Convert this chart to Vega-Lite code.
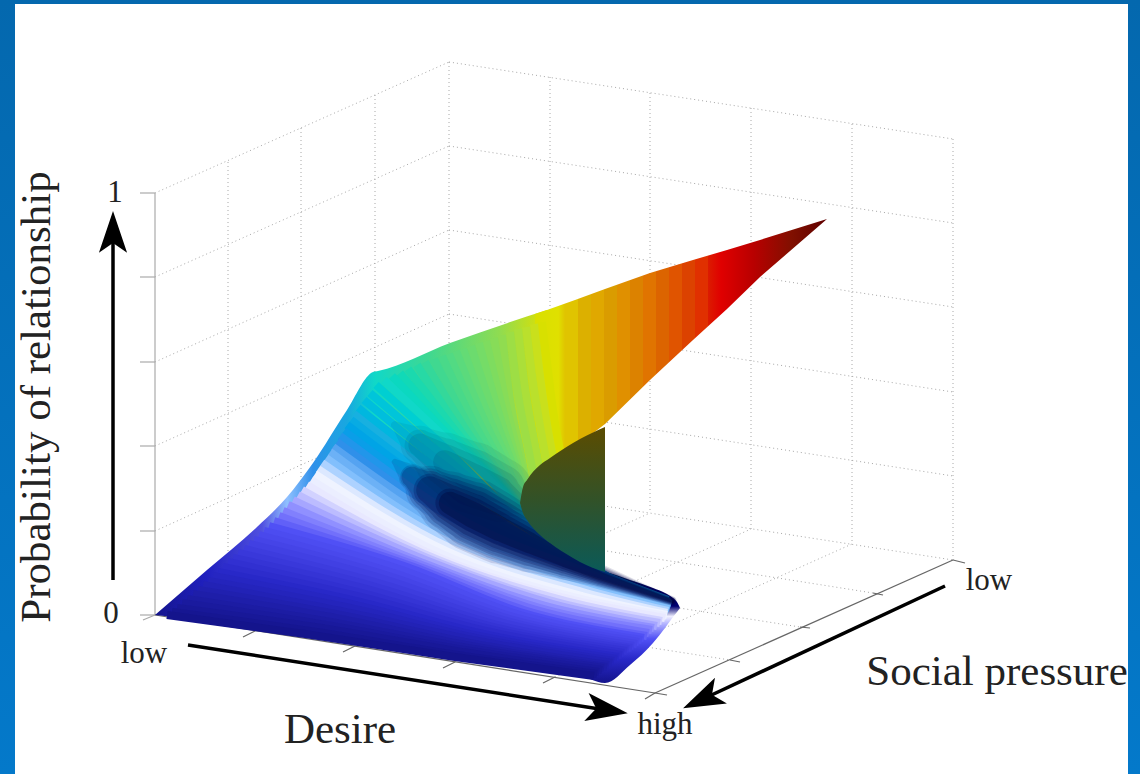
{"$schema":"https://vega.github.io/schema/vega-lite/v6.json","width":1140,"height":774,"padding":0,"autosize":{"type":"none"},"background":"#0570b8","config":{"view":{"stroke":null}},
"datasets":{
"panel":[{"x":15,"y":4,"x2":1128,"y2":774}],
"bg":[{"x":0,"y":0,"x2":1140,"y2":774}],
"grid":[{"x":228,"y":162,"x2":228,"y2":582},{"x":301,"y":128,"x2":301,"y2":549},{"x":375,"y":95,"x2":375,"y2":515},{"x":449,"y":62,"x2":449,"y2":482},{"x":155,"y":615,"x2":449,"y2":482},{"x":155,"y":531,"x2":449,"y2":398},{"x":155,"y":446,"x2":449,"y2":314},{"x":155,"y":362,"x2":449,"y2":230},{"x":155,"y":277,"x2":449,"y2":146},{"x":155,"y":193,"x2":449,"y2":62},{"x":550,"y":77,"x2":550,"y2":498},{"x":650,"y":93,"x2":650,"y2":513},{"x":751,"y":108,"x2":751,"y2":529},{"x":852,"y":124,"x2":852,"y2":544},{"x":953,"y":139,"x2":953,"y2":560},{"x":449,"y":482,"x2":953,"y2":560},{"x":449,"y":398,"x2":953,"y2":476},{"x":449,"y":314,"x2":953,"y2":392},{"x":449,"y":230,"x2":953,"y2":307},{"x":449,"y":146,"x2":953,"y2":223},{"x":449,"y":62,"x2":953,"y2":139},{"x":229,"y":582,"x2":730,"y2":660},{"x":304,"y":549,"x2":800,"y2":627},{"x":378,"y":515,"x2":873,"y2":593},{"x":255,"y":631,"x2":550,"y2":498},{"x":355,"y":646,"x2":650,"y2":513},{"x":455,"y":662,"x2":751,"y2":529},{"x":555,"y":677,"x2":852,"y2":544}],
"edgeV":[{"x":155,"y":193,"x2":155,"y2":615},{"x":140,"y":193,"x2":155,"y2":193},{"x":140,"y":277,"x2":155,"y2":277},{"x":140,"y":362,"x2":155,"y2":362},{"x":140,"y":446,"x2":155,"y2":446},{"x":140,"y":531,"x2":155,"y2":531},{"x":140,"y":615,"x2":155,"y2":615},{"x":143,"y":620,"x2":155,"y2":615}],
"edgeF":[{"x":155,"y":615,"x2":655,"y2":693},{"x":655,"y":693,"x2":953,"y2":560},{"x":243,"y":637,"x2":255,"y2":631},{"x":343,"y":652,"x2":355,"y2":646},{"x":443,"y":668,"x2":455,"y2":662},{"x":543,"y":683,"x2":555,"y2":677},{"x":645,"y":699,"x2":655,"y2":693},{"x":730,"y":660,"x2":740,"y2":662},{"x":800,"y":627,"x2":810,"y2":628},{"x":873,"y":593,"x2":883,"y2":595},{"x":953,"y":560,"x2":965,"y2":563},{"x":655,"y":693,"x2":667,"y2":695}],
"shaft":[{"x":113,"y":580,"x2":113,"y2":233},{"x":188,"y":645,"x2":606,"y2":710},{"x":945,"y":586,"x2":703,"y2":699}],
"heads":[{"x":113,"y":233,"a":0},{"x":606,"y":710,"a":98.8},{"x":703,"y":699,"a":245}],
"under":[{"x":155,"y":615,"y2":615},{"x":207,"y":570,"y2":621},{"x":257,"y":527,"y2":629},{"x":287,"y":497,"y2":633},{"x":313,"y":463,"y2":637},{"x":347,"y":410,"y2":642},{"x":373,"y":372,"y2":646},{"x":378,"y":371,"y2":647},{"x":450,"y":343,"y2":658},{"x":547,"y":310,"y2":672}],
"endcap":[{"x":590,"y":570,"y2":679},{"x":605,"y":572,"y2":683},{"x":630,"y":580,"y2":665},{"x":653,"y":588,"y2":643},{"x":665,"y":593,"y2":628},{"x":673,"y":598,"y2":617},{"x":677,"y":602,"y2":612},{"x":680,"y":608,"y2":608}],
"rim":[{"x":535,"y":314,"y2":470},{"x":547,"y":310,"y2":462},{"x":575,"y":300,"y2":447},{"x":605,"y":289,"y2":424},{"x":650,"y":273,"y2":380},{"x":693,"y":260,"y2":340},{"x":727,"y":250,"y2":309},{"x":760,"y":240,"y2":277},{"x":827,"y":219,"y2":219}],
"fold":[{"x":520,"y":503,"y2":503},{"x":523,"y":487,"y2":513},{"x":527,"y":480,"y2":520},{"x":540,"y":465,"y2":535},{"x":550,"y":458,"y2":543},{"x":573,"y":443,"y2":558},{"x":580,"y":439,"y2":562},{"x":605,"y":427,"y2":572}],
"shade":[{"x":395,"y":462,"s":6},{"x":412,"y":477,"s":25},{"x":430,"y":490,"s":46},{"x":450,"y":503,"s":60},{"x":473,"y":515,"s":70},{"x":500,"y":529,"s":66},{"x":530,"y":543,"s":56},{"x":565,"y":560,"s":38},{"x":600,"y":576,"s":22},{"x":640,"y":590,"s":14},{"x":672,"y":601,"s":9}],
"shadeHigh":[{"x":395,"y":425,"s":6},{"x":420,"y":445,"s":30},{"x":445,"y":462,"s":46},{"x":473,"y":478,"s":56},{"x":500,"y":490,"s":50},{"x":530,"y":510,"s":20}],
"big":[{"t":"Desire","x":340,"y":730},{"t":"Social pressure","x":997,"y":672}],
"side":[{"t":"Probability of relationship","x":37,"y":397}],
"small":[{"t":"low","x":144,"y":654},{"t":"low","x":989,"y":581},{"t":"high","x":665,"y":725},{"t":"1","x":115,"y":193},{"t":"0","x":111,"y":614}],
"bands":[
{"c":0.8,"x":542,"y":322},{"c":0.8,"x":548,"y":370},{"c":0.8,"x":553,"y":410},{"c":0.8,"x":560,"y":450},
{"c":0.788,"x":534,"y":324},{"c":0.788,"x":540,"y":376},{"c":0.788,"x":546,"y":418},{"c":0.788,"x":553,"y":457},
{"c":0.776,"x":526,"y":327},{"c":0.776,"x":533,"y":382},{"c":0.776,"x":540,"y":426},{"c":0.776,"x":547,"y":464},
{"c":0.764,"x":518,"y":329},{"c":0.764,"x":525,"y":388},{"c":0.764,"x":533,"y":434},{"c":0.764,"x":540,"y":471},
{"c":0.752,"x":510,"y":332},{"c":0.752,"x":518,"y":394},{"c":0.752,"x":527,"y":442},{"c":0.752,"x":534,"y":478},
{"c":0.74,"x":502,"y":335},{"c":0.74,"x":510,"y":400},{"c":0.74,"x":520,"y":450},{"c":0.74,"x":527,"y":485},
{"c":0.731,"x":494,"y":338},{"c":0.731,"x":506,"y":404},{"c":0.731,"x":518,"y":453},{"c":0.731,"x":527,"y":488},
{"c":0.722,"x":486,"y":341},{"c":0.722,"x":502,"y":407},{"c":0.722,"x":515,"y":456},{"c":0.722,"x":526,"y":491},
{"c":0.713,"x":479,"y":343},{"c":0.713,"x":498,"y":411},{"c":0.713,"x":513,"y":458},{"c":0.713,"x":526,"y":493},
{"c":0.704,"x":471,"y":346},{"c":0.704,"x":494,"y":415},{"c":0.704,"x":511,"y":461},{"c":0.704,"x":525,"y":496},
{"c":0.696,"x":463,"y":349},{"c":0.696,"x":489,"y":418},{"c":0.696,"x":509,"y":464},{"c":0.696,"x":525,"y":499},
{"c":0.687,"x":456,"y":351},{"c":0.687,"x":485,"y":422},{"c":0.687,"x":507,"y":467},{"c":0.687,"x":524,"y":502},
{"c":0.678,"x":449,"y":354},{"c":0.678,"x":481,"y":426},{"c":0.678,"x":504,"y":469},{"c":0.678,"x":524,"y":504},
{"c":0.669,"x":442,"y":356},{"c":0.669,"x":477,"y":429},{"c":0.669,"x":502,"y":472},{"c":0.669,"x":523,"y":507},
{"c":0.66,"x":434,"y":359},{"c":0.66,"x":473,"y":433},{"c":0.66,"x":500,"y":475},{"c":0.66,"x":523,"y":510},
{"c":0.647,"x":425,"y":362},{"c":0.647,"x":468,"y":433},{"c":0.647,"x":498,"y":476},{"c":0.647,"x":524,"y":512},
{"c":0.633,"x":417,"y":365},{"c":0.633,"x":462,"y":433},{"c":0.633,"x":497,"y":477},{"c":0.633,"x":525,"y":515},
{"c":0.62,"x":408,"y":369},{"c":0.62,"x":457,"y":433},{"c":0.62,"x":495,"y":478},{"c":0.62,"x":526,"y":517},
{"c":0.607,"x":400,"y":373},{"c":0.607,"x":451,"y":433},{"c":0.607,"x":493,"y":478},{"c":0.607,"x":528,"y":520},
{"c":0.593,"x":392,"y":376},{"c":0.593,"x":446,"y":433},{"c":0.593,"x":492,"y":479},{"c":0.593,"x":529,"y":522},
{"c":0.58,"x":384,"y":380},{"c":0.58,"x":440,"y":433},{"c":0.58,"x":490,"y":480},{"c":0.58,"x":530,"y":525},
{"c":0.565,"x":376,"y":385},{"c":0.565,"x":440,"y":443},{"c":0.565,"x":510,"y":510},{"c":0.565,"x":550,"y":535},
{"c":0.55,"x":370,"y":393},{"c":0.55,"x":440,"y":453},{"c":0.55,"x":520,"y":520},{"c":0.55,"x":570,"y":555},
{"c":0.54,"x":364,"y":400},{"c":0.54,"x":440,"y":462},{"c":0.54,"x":525,"y":525},{"c":0.54,"x":590,"y":570},
{"c":0.53,"x":358,"y":408},{"c":0.53,"x":440,"y":471},{"c":0.53,"x":530,"y":530},{"c":0.53,"x":610,"y":578},
{"c":0.52,"x":354,"y":414},{"c":0.52,"x":440,"y":480},{"c":0.52,"x":540,"y":545},{"c":0.52,"x":668,"y":600},
{"c":0.51,"x":351,"y":420},{"c":0.51,"x":447,"y":491},{"c":0.51,"x":553,"y":552},{"c":0.51,"x":668,"y":601},
{"c":0.495,"x":347,"y":425},{"c":0.495,"x":453,"y":501},{"c":0.495,"x":567,"y":560},{"c":0.495,"x":669,"y":602},
{"c":0.485,"x":344,"y":431},{"c":0.485,"x":460,"y":512},{"c":0.485,"x":580,"y":567},{"c":0.485,"x":670,"y":603},
{"c":0.47,"x":340,"y":436},{"c":0.47,"x":466,"y":522},{"c":0.47,"x":594,"y":575},{"c":0.47,"x":671,"y":604},
{"c":0.46,"x":337,"y":442},{"c":0.46,"x":473,"y":533},{"c":0.46,"x":607,"y":582},{"c":0.46,"x":671,"y":605},
{"c":0.44,"x":333,"y":447},{"c":0.44,"x":469,"y":536},{"c":0.44,"x":603,"y":584},{"c":0.44,"x":670,"y":606},
{"c":0.425,"x":330,"y":452},{"c":0.425,"x":465,"y":541},{"c":0.425,"x":598,"y":586},{"c":0.425,"x":670,"y":608},
{"c":0.41,"x":326,"y":458},{"c":0.41,"x":461,"y":544},{"c":0.41,"x":594,"y":589},{"c":0.41,"x":669,"y":609},
{"c":0.39,"x":322,"y":463},{"c":0.39,"x":456,"y":546},{"c":0.39,"x":590,"y":591},{"c":0.39,"x":668,"y":611},
{"c":0.37,"x":318,"y":469},{"c":0.37,"x":452,"y":549},{"c":0.37,"x":586,"y":593},{"c":0.37,"x":667,"y":613},
{"c":0.355,"x":315,"y":474},{"c":0.355,"x":448,"y":552},{"c":0.355,"x":582,"y":596},{"c":0.355,"x":667,"y":615},
{"c":0.34,"x":311,"y":480},{"c":0.34,"x":444,"y":555},{"c":0.34,"x":577,"y":598},{"c":0.34,"x":666,"y":616},
{"c":0.32,"x":307,"y":485},{"c":0.32,"x":440,"y":558},{"c":0.32,"x":573,"y":600},{"c":0.32,"x":665,"y":618},
{"c":0.305,"x":302,"y":490},{"c":0.305,"x":436,"y":559},{"c":0.305,"x":566,"y":601},{"c":0.305,"x":662,"y":621},
{"c":0.29,"x":298,"y":495},{"c":0.29,"x":432,"y":560},{"c":0.29,"x":560,"y":603},{"c":0.29,"x":660,"y":623},
{"c":0.275,"x":293,"y":500},{"c":0.275,"x":428,"y":561},{"c":0.275,"x":553,"y":604},{"c":0.275,"x":657,"y":626},
{"c":0.26,"x":288,"y":505},{"c":0.26,"x":423,"y":563},{"c":0.26,"x":546,"y":606},{"c":0.26,"x":654,"y":628},
{"c":0.245,"x":283,"y":511},{"c":0.245,"x":419,"y":564},{"c":0.245,"x":540,"y":608},{"c":0.245,"x":652,"y":630},
{"c":0.23,"x":279,"y":516},{"c":0.23,"x":415,"y":565},{"c":0.23,"x":533,"y":609},{"c":0.23,"x":649,"y":633},
{"c":0.215,"x":274,"y":521},{"c":0.215,"x":411,"y":566},{"c":0.215,"x":527,"y":611},{"c":0.215,"x":647,"y":636},
{"c":0.2,"x":269,"y":526},{"c":0.2,"x":407,"y":567},{"c":0.2,"x":520,"y":612},{"c":0.2,"x":644,"y":638},
{"c":0.19,"x":264,"y":531},{"c":0.19,"x":402,"y":570},{"c":0.19,"x":517,"y":614},{"c":0.19,"x":642,"y":640},
{"c":0.18,"x":259,"y":535},{"c":0.18,"x":397,"y":574},{"c":0.18,"x":514,"y":617},{"c":0.18,"x":639,"y":642},
{"c":0.17,"x":254,"y":540},{"c":0.17,"x":392,"y":577},{"c":0.17,"x":510,"y":619},{"c":0.17,"x":637,"y":644},
{"c":0.16,"x":249,"y":544},{"c":0.16,"x":387,"y":580},{"c":0.16,"x":507,"y":621},{"c":0.16,"x":634,"y":646},
{"c":0.15,"x":244,"y":549},{"c":0.15,"x":382,"y":584},{"c":0.15,"x":504,"y":623},{"c":0.15,"x":632,"y":648},
{"c":0.14,"x":238,"y":553},{"c":0.14,"x":376,"y":587},{"c":0.14,"x":501,"y":626},{"c":0.14,"x":629,"y":649},
{"c":0.13,"x":233,"y":558},{"c":0.13,"x":371,"y":590},{"c":0.13,"x":497,"y":628},{"c":0.13,"x":627,"y":651},
{"c":0.12,"x":228,"y":562},{"c":0.12,"x":366,"y":594},{"c":0.12,"x":494,"y":630},{"c":0.12,"x":624,"y":653},
{"c":0.11,"x":223,"y":567},{"c":0.11,"x":361,"y":597},{"c":0.11,"x":491,"y":632},{"c":0.11,"x":622,"y":655},
{"c":0.1,"x":218,"y":572},{"c":0.1,"x":356,"y":601},{"c":0.1,"x":488,"y":635},{"c":0.1,"x":619,"y":657},
{"c":0.09,"x":213,"y":576},{"c":0.09,"x":351,"y":604},{"c":0.09,"x":484,"y":637},{"c":0.09,"x":617,"y":659},
{"c":0.08,"x":208,"y":581},{"c":0.08,"x":346,"y":607},{"c":0.08,"x":481,"y":639},{"c":0.08,"x":614,"y":661},
{"c":0.07,"x":203,"y":585},{"c":0.07,"x":341,"y":611},{"c":0.07,"x":478,"y":641},{"c":0.07,"x":612,"y":663},
{"c":0.06,"x":198,"y":590},{"c":0.06,"x":336,"y":614},{"c":0.06,"x":475,"y":644},{"c":0.06,"x":609,"y":665},
{"c":0.05,"x":193,"y":594},{"c":0.05,"x":331,"y":617},{"c":0.05,"x":471,"y":646},{"c":0.05,"x":607,"y":667},
{"c":0.04,"x":187,"y":599},{"c":0.04,"x":325,"y":621},{"c":0.04,"x":468,"y":648},{"c":0.04,"x":604,"y":668},
{"c":0.03,"x":182,"y":603},{"c":0.03,"x":320,"y":624},{"c":0.03,"x":465,"y":650},{"c":0.03,"x":602,"y":670},
{"c":0.02,"x":177,"y":608},{"c":0.02,"x":315,"y":627},{"c":0.02,"x":462,"y":652},{"c":0.02,"x":599,"y":672},
{"c":0.01,"x":172,"y":612},{"c":0.01,"x":310,"y":631},{"c":0.01,"x":458,"y":655},{"c":0.01,"x":597,"y":674},
{"c":0,"x":167,"y":615},{"c":0,"x":305,"y":634},{"c":0,"x":455,"y":657},{"c":0,"x":594,"y":676}
]},
"encoding":{"x":{"field":"x","type":"quantitative","axis":null,"scale":{"domain":[0,1140],"nice":false,"zero":false}},"y":{"field":"y","type":"quantitative","axis":null,"scale":{"domain":[774,0],"nice":false,"zero":false}}},
"resolve":{"scale":{"size":"independent","color":"independent"}},
"layer":[
{"data":{"name":"bg"},"mark":{"type":"rect","color":{"gradient":"linear","x1":0,"y1":0,"x2":0,"y2":1,"stops":[{"offset":0,"color":"#0468ae"},{"offset":1,"color":"#0479ca"}]}},"encoding":{"x2":{"field":"x2"},"y2":{"field":"y2"}}},
{"data":{"name":"panel"},"mark":{"type":"rect","color":"#ffffff"},"encoding":{"x2":{"field":"x2"},"y2":{"field":"y2"}}},
{"data":{"name":"grid"},"mark":{"type":"rule","color":"#a8a8a8","strokeWidth":1,"strokeDash":[1,3]},"encoding":{"x2":{"field":"x2"},"y2":{"field":"y2"}}},
{"data":{"name":"edgeV"},"mark":{"type":"rule","color":"#aaaaaa","strokeWidth":1.2},"encoding":{"x2":{"field":"x2"},"y2":{"field":"y2"}}},
{"data":{"name":"edgeF"},"mark":{"type":"rule","color":"#666666","strokeWidth":1.2},"encoding":{"x2":{"field":"x2"},"y2":{"field":"y2"}}},
{"data":{"name":"under"},"mark":{"type":"area","interpolate":"monotone","color":{"gradient":"linear","x1":0,"y1":0,"x2":1,"y2":0,"stops":[{"offset":0,"color":"#14148c"},{"offset":0.133,"color":"#2020c0"},{"offset":0.273,"color":"#5050e0"},{"offset":0.337,"color":"#90c0ff"},{"offset":0.403,"color":"#2f90ea"},{"offset":0.49,"color":"#18a8e0"},{"offset":0.561,"color":"#10d8c8"},{"offset":0.7,"color":"#40d890"},{"offset":0.88,"color":"#90dc50"},{"offset":1,"color":"#e0e000"}]}},"encoding":{"y2":{"field":"y2"}}},
{"data":{"name":"endcap"},"mark":{"type":"area","interpolate":"monotone","color":{"gradient":"linear","x1":0,"y1":0,"x2":0,"y2":1,"stops":[{"offset":0,"color":"#005060"},{"offset":0.16,"color":"#000060"},{"offset":0.32,"color":"#000070"},{"offset":0.41,"color":"#f0f0ff"},{"offset":0.48,"color":"#b0b0ff"},{"offset":0.61,"color":"#5050f5"},{"offset":0.79,"color":"#2828c8"},{"offset":1,"color":"#14148c"}]}},"encoding":{"y2":{"field":"y2"}}},
{"data":{"name":"rim"},"mark":{"type":"area","color":{"gradient":"linear","x1":0,"y1":0,"x2":1,"y2":0,"stops":[{"offset":0,"color":"#d8e000"},{"offset":0.08,"color":"#e0e000"},{"offset":0.103,"color":"#e0c400"},{"offset":0.147,"color":"#e0c400"},{"offset":0.147,"color":"#dcb000"},{"offset":0.192,"color":"#dcb000"},{"offset":0.192,"color":"#e0a800"},{"offset":0.236,"color":"#e0a800"},{"offset":0.236,"color":"#da9c00"},{"offset":0.281,"color":"#da9c00"},{"offset":0.281,"color":"#e09000"},{"offset":0.325,"color":"#e09000"},{"offset":0.325,"color":"#dc8200"},{"offset":0.37,"color":"#dc8200"},{"offset":0.37,"color":"#e07400"},{"offset":0.414,"color":"#e07400"},{"offset":0.414,"color":"#dc6400"},{"offset":0.459,"color":"#dc6400"},{"offset":0.459,"color":"#e05400"},{"offset":0.503,"color":"#e05400"},{"offset":0.503,"color":"#dc4200"},{"offset":0.548,"color":"#dc4200"},{"offset":0.548,"color":"#e03000"},{"offset":0.592,"color":"#e03000"},{"offset":0.592,"color":"#dc1c00"},{"offset":0.637,"color":"#e00000"},{"offset":0.75,"color":"#b80000"},{"offset":0.88,"color":"#801000"},{"offset":1,"color":"#600000"}]}},"encoding":{"y2":{"field":"y2"}}},
{"data":{"name":"bands"},"mark":{"type":"line","strokeWidth":8,"interpolate":"monotone","strokeCap":"butt"},"encoding":{"color":{"field":"c","type":"quantitative","legend":null,"scale":{"domain":[0,0.1,0.2,0.26,0.32,0.36,0.4,0.46,0.52,0.58,0.66,0.74,0.8],"range":["#14148c","#2828c8","#5050f5","#9090ff","#e8e8ff","#f0f4ff","#90c8ff","#2f90ea","#18b0e0","#10d8c8","#40d890","#90dc50","#d8e000"]}},"detail":{"field":"c"}}},
{"data":{"name":"shadeHigh"},"mark":{"type":"trail","color":"#003050","opacity":0.08},"encoding":{"size":{"field":"s","type":"quantitative","legend":null,"scale":{"domain":[0,70],"range":[0,90]}}}},
{"data":{"name":"shadeHigh"},"transform":[{"filter":"datum.x>=420"}],"mark":{"type":"trail","color":"#003050","opacity":0.1},"encoding":{"size":{"field":"s","type":"quantitative","legend":null,"scale":{"domain":[0,70],"range":[0,72]}}}},
{"data":{"name":"shadeHigh"},"transform":[{"filter":"datum.x>=420"}],"mark":{"type":"trail","color":"#003050","opacity":0.12},"encoding":{"size":{"field":"s","type":"quantitative","legend":null,"scale":{"domain":[0,70],"range":[0,54]}}}},
{"data":{"name":"shadeHigh"},"transform":[{"filter":"datum.x>=445"}],"mark":{"type":"trail","color":"#003050","opacity":0.14},"encoding":{"size":{"field":"s","type":"quantitative","legend":null,"scale":{"domain":[0,70],"range":[0,36]}}}},
{"data":{"name":"shade"},"mark":{"type":"trail","color":"#000048","opacity":0.12},"encoding":{"size":{"field":"s","type":"quantitative","legend":null,"scale":{"domain":[0,70],"range":[0,74]}}}},
{"data":{"name":"shade"},"transform":[{"filter":"datum.x>=412"}],"mark":{"type":"trail","color":"#000048","opacity":0.16},"encoding":{"size":{"field":"s","type":"quantitative","legend":null,"scale":{"domain":[0,70],"range":[0,66]}}}},
{"data":{"name":"shade"},"transform":[{"filter":"datum.x>=412"}],"mark":{"type":"trail","color":"#000048","opacity":0.2},"encoding":{"size":{"field":"s","type":"quantitative","legend":null,"scale":{"domain":[0,70],"range":[0,58]}}}},
{"data":{"name":"shade"},"transform":[{"filter":"datum.x>=430"}],"mark":{"type":"trail","color":"#000048","opacity":0.22},"encoding":{"size":{"field":"s","type":"quantitative","legend":null,"scale":{"domain":[0,70],"range":[0,50]}}}},
{"data":{"name":"shade"},"transform":[{"filter":"datum.x>=430"}],"mark":{"type":"trail","color":"#000040","opacity":0.25},"encoding":{"size":{"field":"s","type":"quantitative","legend":null,"scale":{"domain":[0,70],"range":[0,42]}}}},
{"data":{"name":"shade"},"transform":[{"filter":"datum.x>=450"}],"mark":{"type":"trail","color":"#000040","opacity":0.28},"encoding":{"size":{"field":"s","type":"quantitative","legend":null,"scale":{"domain":[0,70],"range":[0,34]}}}},
{"data":{"name":"shade"},"transform":[{"filter":"datum.x>=450"}],"mark":{"type":"trail","color":"#000030","opacity":0.3},"encoding":{"size":{"field":"s","type":"quantitative","legend":null,"scale":{"domain":[0,70],"range":[0,26]}}}},
{"data":{"name":"fold"},"mark":{"type":"area","interpolate":"monotone","color":{"gradient":"linear","x1":0,"y1":0,"x2":0,"y2":1,"stops":[{"offset":0,"color":"#5c4c00"},{"offset":0.5,"color":"#325228"},{"offset":1,"color":"#0a5a58"}]}},"encoding":{"y2":{"field":"y2"}}},
{"data":{"name":"shaft"},"mark":{"type":"rule","color":"#000000","strokeWidth":3.5},"encoding":{"x2":{"field":"x2"},"y2":{"field":"y2"}}},
{"data":{"name":"heads"},"mark":{"type":"point","filled":true,"color":"#000000","opacity":1,"size":1936,"shape":"M0,-1 L0.64,0.9 L0,0.45 L-0.64,0.9 Z"},"encoding":{"angle":{"field":"a","type":"quantitative","scale":null}}},
{"data":{"name":"big"},"mark":{"type":"text","font":"Liberation Serif","fontSize":43,"color":"#222222","align":"center","baseline":"middle"},"encoding":{"text":{"field":"t"}}},
{"data":{"name":"side"},"mark":{"type":"text","font":"Liberation Serif","fontSize":43,"color":"#222222","align":"center","baseline":"middle","angle":270},"encoding":{"text":{"field":"t"}}},
{"data":{"name":"small"},"mark":{"type":"text","font":"Liberation Serif","fontSize":31,"color":"#222222","align":"center","baseline":"middle"},"encoding":{"text":{"field":"t"}}}
]}
